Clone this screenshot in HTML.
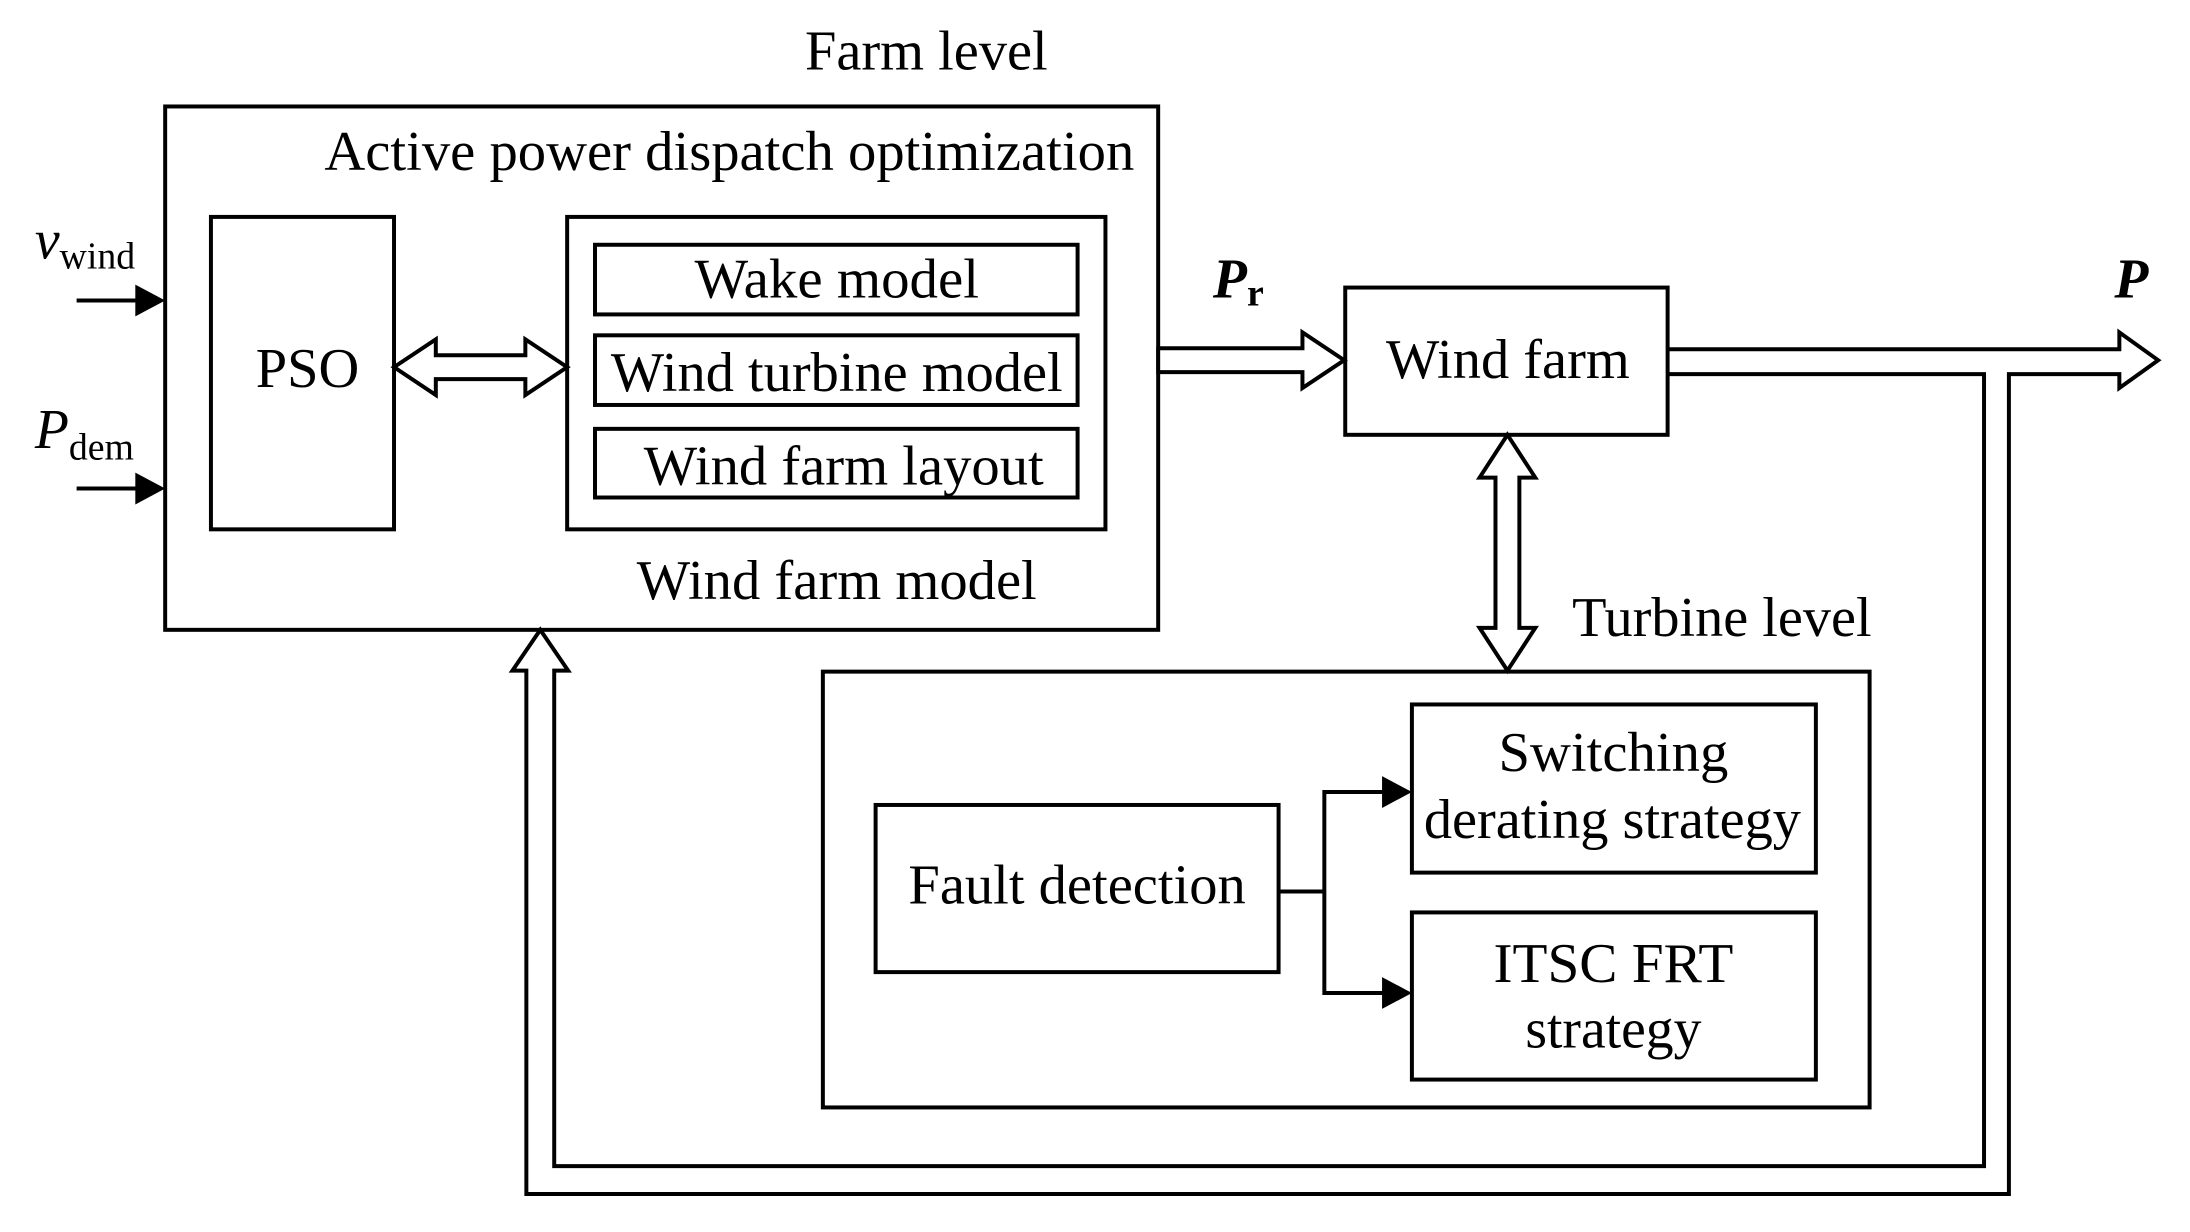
<!DOCTYPE html>
<html><head><meta charset="utf-8"><style>html,body{margin:0;padding:0;background:#fff}</style></head>
<body>
<svg width="2190" height="1227" viewBox="0 0 2190 1227" xmlns="http://www.w3.org/2000/svg" font-family="Liberation Serif, serif" font-size="56">
<g transform="scale(0.995)">
<g fill="none" stroke="#000" stroke-width="4">
<rect x="166" y="107" width="998" height="526"/>
<rect x="212" y="218" width="184" height="314"/>
<rect x="570" y="218" width="541" height="314"/>
<rect x="598" y="246" width="485" height="70"/>
<rect x="598" y="337" width="485" height="70"/>
<rect x="598" y="431" width="485" height="69"/>
<rect x="1352" y="289" width="324" height="148"/>
<rect x="827" y="675" width="1052" height="438"/>
<rect x="880" y="809" width="405" height="168"/>
<rect x="1419" y="708" width="406" height="169"/>
<rect x="1419" y="917" width="406" height="168"/>
<polygon fill="#fff" points="396,369 438,341 438,357 528,357 528,341 570,369 528,397 528,381 438,381 438,397"/>
<polygon fill="#fff" points="1164,350 1309,350 1309,334 1351,362 1309,390 1309,374 1164,374"/>
<polygon fill="#fff" points="1515,437 1543,480 1527,480 1527,631 1543,631 1515,674 1487,631 1503,631 1503,480 1487,480"/>
<polyline points="1676,351 2130,351 2130,334 2169,362 2130,390 2130,376 2019,376 2019,1200 529,1200 529,674 515,674 543,633 571,674 557,674 557,1172 1994,1172 1994,376 1676,376"/>
<polyline points="1285,896 1331,896"/>
<polyline points="1394,796 1331,796 1331,998 1394,998"/>
<line x1="77" y1="302" x2="140" y2="302"/>
<line x1="77" y1="491" x2="140" y2="491"/>
</g>
<g fill="#000">
<polygon points="166,302 136,286 136,318"/>
<polygon points="166,491 136,475 136,507"/>
<polygon points="1419,796 1389,780 1389,812"/>
<polygon points="1419,998 1389,982 1389,1014"/>
</g>
<g fill="#000">
<text x="809" y="70" textLength="244" lengthAdjust="spacingAndGlyphs">Farm level</text>
<text x="326" y="171" textLength="814" lengthAdjust="spacingAndGlyphs">Active power dispatch optimization</text>
<text x="257" y="389" textLength="104" lengthAdjust="spacingAndGlyphs">PSO</text>
<text x="698" y="299" textLength="286" lengthAdjust="spacingAndGlyphs">Wake model</text>
<text x="614" y="393" textLength="454" lengthAdjust="spacingAndGlyphs">Wind turbine model</text>
<text x="647" y="487" textLength="402" lengthAdjust="spacingAndGlyphs">Wind farm layout</text>
<text x="640" y="602" textLength="402" lengthAdjust="spacingAndGlyphs">Wind farm model</text>
<text x="1393" y="380" textLength="245" lengthAdjust="spacingAndGlyphs">Wind farm</text>
<text x="1580" y="639" textLength="301" lengthAdjust="spacingAndGlyphs">Turbine level</text>
<text x="913" y="908" textLength="339" lengthAdjust="spacingAndGlyphs">Fault detection</text>
<text x="1506" y="775" textLength="231" lengthAdjust="spacingAndGlyphs">Switching</text>
<text x="1431" y="842" textLength="379" lengthAdjust="spacingAndGlyphs">derating strategy</text>
<text x="1501" y="987" textLength="241" lengthAdjust="spacingAndGlyphs">ITSC FRT</text>
<text x="1533" y="1053" textLength="177" lengthAdjust="spacingAndGlyphs">strategy</text>
<text x="35" y="260" font-style="italic">v<tspan font-style="normal" font-size="38" dy="10">wind</tspan></text>
<text x="35" y="450" font-style="italic">P<tspan font-style="normal" font-size="38" dy="12">dem</tspan></text>
<text x="1219" y="299" font-style="italic" font-weight="bold">P<tspan font-style="normal" font-size="38" dy="8">r</tspan></text>
<text x="2125" y="299" font-style="italic" font-weight="bold">P</text>
</g>
</g>
</svg>
</body></html>
